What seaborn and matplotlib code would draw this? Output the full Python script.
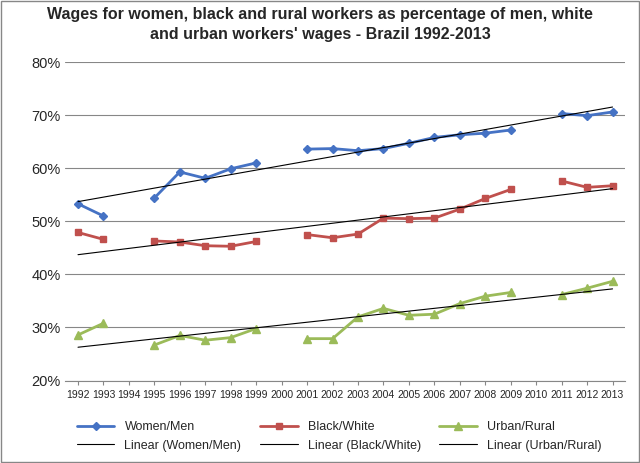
import numpy as np
import pandas as pd
import matplotlib
matplotlib.use("Agg")
import matplotlib.pyplot as plt
import seaborn as sns

years = list(range(1992, 2014))
nan = np.nan
women_men = [53.3, 51.0, nan, 54.4, 59.3, 58.1, 59.9, 61.0, nan, 63.6, 63.7, 63.3, 63.7, 64.7, 65.8, 66.3, 66.6, 67.2, nan, 70.3, 69.9, 70.6]
black_white = [47.9, 46.6, nan, 46.3, 46.1, 45.4, 45.3, 46.2, nan, 47.5, 46.9, 47.6, 50.6, 50.5, 50.6, 52.3, 54.3, 56.0, nan, 57.6, 56.4, 56.7]
urban_rural = [28.6, 30.8, nan, 26.7, 28.5, 27.6, 28.1, 29.8, nan, 27.9, 27.9, 32.0, 33.6, 32.3, 32.5, 34.5, 35.9, 36.6, nan, 36.2, 37.4, 38.7]

sns.set_style("white")
plt.rcParams['font.family'] = ['Liberation Sans', 'DejaVu Sans']
fig = plt.figure(figsize=(6.4, 4.63), dpi=100)
ax = fig.add_axes([0.102, 0.178, 0.875, 0.688])
x = np.arange(len(years))

series = [("Women/Men", women_men, "#4572C4", "D", 4),
          ("Black/White", black_white, "#C0504D", "s", 5),
          ("Urban/Rural", urban_rural, "#9BBB59", "^", 6)]
handles = []
for name, vals, col, mk, ms in series:
    v = np.array(vals, dtype=float)
    h, = ax.plot(x, v, color=col, marker=mk, markersize=ms, lw=2, label=name)
    handles.append(h)
trend_handles = []
for name, vals, col, mk, ms in series:
    v = np.array(vals, dtype=float)
    m = ~np.isnan(v)
    df = pd.DataFrame({"x": x[m], "y": v[m]})
    p = np.polyfit(df.x, df.y, 1)
    t = pd.DataFrame({"x": [x[0], x[-1]], "y": np.polyval(p, [x[0], x[-1]])})
    sns.lineplot(data=t, x="x", y="y", ax=ax, color="black", lw=0.8, legend=False)
    trend_handles.append(plt.Line2D([], [], color="black", lw=0.8, label=f"Linear ({name})"))

ax.set_xlim(-0.5, len(years) - 0.5)
ax.set_ylim(20, 80)
ax.set_yticks(range(20, 81, 10))
ax.set_yticklabels([f"{v}%" for v in range(20, 81, 10)], fontsize=10.5)
ax.set_xticks(x)
ax.set_xticklabels([str(y) for y in years], fontsize=7.5)
ax.set_xlabel(""); ax.set_ylabel("")
ax.yaxis.grid(True, color="#878787", lw=0.8)
for s in ["top", "right", "left"]:
    ax.spines[s].set_visible(False)
ax.spines["bottom"].set_color("#878787")
ax.tick_params(axis="x", length=3, color="#878787", direction="out", bottom=True)
ax.tick_params(axis="y", length=0)

fig.suptitle("Wages for women, black and rural workers as percentage of men, white\nand urban workers' wages - Brazil 1992-2013",
             fontsize=11.5, fontweight="bold", y=0.985, linespacing=1.4)
# column-major fill: order so rows read series then trends
leg_h = [handles[0], trend_handles[0], handles[1], trend_handles[1], handles[2], trend_handles[2]]
fig.legend(handles=leg_h, loc="lower center", ncol=3, frameon=False, fontsize=9,
           bbox_to_anchor=(0.53, 0.0), columnspacing=1.5, handlelength=3)
fig.patches.append(plt.Rectangle((0.002, 0.002), 0.996, 0.996, transform=fig.transFigure,
                                 fill=False, edgecolor="#878787", lw=1))
fig.savefig("out.png", dpi=100)
